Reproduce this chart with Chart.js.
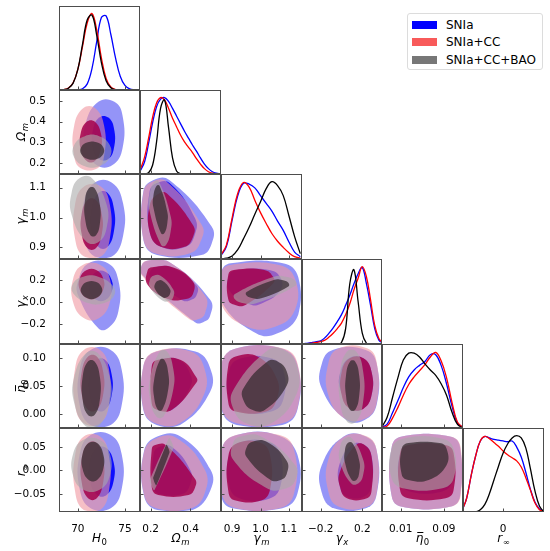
<!DOCTYPE html>
<html>
<head>
<meta charset="utf-8">
<script src="https://cdn.jsdelivr.net/npm/chart.js@4.4.1/dist/chart.umd.min.js"></script>
<style>
  html, body { margin: 0; padding: 0; background: #fff; }
  #wrap { position: relative; width: 550px; height: 551px; overflow: hidden; }
  #wrap canvas { position: absolute; }
  #legend { position: absolute; left: 407px; top: 13px; width: 134px; height: 55px;
            border: 1px solid #dcdcdc; border-radius: 3px; font: 12px "DejaVu Sans", sans-serif; color: #000; }
  #legend .row { position: absolute; left: 0; height: 14px; line-height: 14px; width: 100%; }
  #legend .patch { position: absolute; left: 4px; top: 3px; width: 25px; height: 8px; }
  #legend .txt { position: absolute; left: 38px; white-space: nowrap; }
</style>
</head>
<body>
<div id="wrap"><div id="legend"></div></div>
<script>
// chains
const runs = ['SNIa', 'SNIa+CC', 'SNIa+CC+BAO'];
const lineColors = ['#0000ff', '#ff0000', '#000000'];
const legendColors = ['#0000ff', '#f85a5a', '#777777'];
// 2sigma / 1sigma fills, in drawing order
const fillColors = ['rgba(60,60,240,0.55)', 'rgba(0,0,255,0.9)',
                    'rgba(240,150,160,0.6)', 'rgba(165,0,75,0.85)',
                    'rgba(170,170,170,0.6)', 'rgba(50,40,45,0.72)'];

// parameters
const paramSymbols = [['H', '0'], ['Ω', 'm'], ['γ', 'm'], ['γ', 'x'], ['η̄', '0'], ['r', '∞']];
const paramMin = [68, 0.147, 0.861, -0.38, -0.0245, -0.088];
const paramMax = [76.6, 0.553, 1.146, 0.39, 0.1255, 0.09];
const xTickValues = [[70, 75], [0.2, 0.4], [0.9, 1.0, 1.1], [-0.2, 0.2], [0.01, 0.09], [0]];
const xTickLabels = [['70', '75'], ['0.2', '0.4'], ['0.9', '1.0', '1.1'], ['−0.2', '0.2'], ['0.01', '0.09'], ['0']];
const yTickValues = [[], [0.2, 0.3, 0.4, 0.5], [0.9, 1.0, 1.1], [-0.2, 0, 0.2], [0, 0.05, 0.1], [-0.05, 0, 0.05]];
const yTickLabels = [[], ['0.2', '0.3', '0.4', '0.5'], ['0.9', '1.0', '1.1'], ['−0.2', '0.0', '0.2'],
                     ['0.00', '0.05', '0.10'], ['−0.05', '0.00', '0.05']];

// 1D marginals (normalised to peak 1)
const h0Grid = [68, 68.5, 69, 69.5, 70, 70.5, 71, 71.5, 72, 72.5, 73, 73.5, 74, 74.5, 75, 75.5, 76, 76.5];
const h0SNIa = [0, 0, 0, 0, 0.002, 0.016, 0.08, 0.28, 0.63, 0.95, 0.97, 0.73, 0.42, 0.18, 0.06, 0.015, 0.003, 0];
const h0CC   = [0, 0.005, 0.025, 0.095, 0.27, 0.57, 0.88, 1.0, 0.79, 0.42, 0.15, 0.04, 0.006, 0, 0, 0, 0, 0];
const h0BAO  = [0, 0.004, 0.022, 0.09, 0.27, 0.6, 0.92, 0.98, 0.72, 0.36, 0.12, 0.03, 0.004, 0, 0, 0, 0, 0];

const omGrid = [0.15, 0.17, 0.19, 0.21, 0.23, 0.25, 0.27, 0.29, 0.31, 0.33, 0.35, 0.37, 0.39, 0.41, 0.43, 0.45, 0.47, 0.49, 0.51, 0.53, 0.55];
const omSNIa = [0.05, 0.16, 0.40, 0.67, 0.88, 0.98, 1.0, 0.95, 0.86, 0.76, 0.66, 0.56, 0.47, 0.38, 0.30, 0.21, 0.13, 0.07, 0.03, 0.01, 0];
const omCC   = [0.07, 0.22, 0.47, 0.74, 0.93, 1.0, 0.97, 0.86, 0.73, 0.62, 0.51, 0.42, 0.35, 0.28, 0.20, 0.13, 0.07, 0.03, 0.01, 0, 0];
const omBAO  = [0, 0, 0.017, 0.115, 0.42, 0.86, 0.97, 0.61, 0.21, 0.04, 0.004, 0, 0, 0, 0, 0, 0, 0, 0, 0, 0];

const gmGrid = [0.86, 0.88, 0.90, 0.92, 0.94, 0.96, 0.98, 1.00, 1.02, 1.04, 1.06, 1.08, 1.10, 1.12, 1.14];
const gmSNIa = [0.04, 0.16, 0.50, 0.82, 0.98, 0.97, 0.92, 0.82, 0.72, 0.62, 0.49, 0.37, 0.22, 0.09, 0.03];
const gmCC   = [0.05, 0.18, 0.53, 0.85, 0.99, 0.93, 0.76, 0.60, 0.46, 0.33, 0.23, 0.15, 0.08, 0.03, 0.01];
const gmBAO  = [0, 0.01, 0.04, 0.12, 0.26, 0.41, 0.58, 0.74, 0.91, 1.0, 0.95, 0.82, 0.56, 0.29, 0.07];

const gxGrid = [-0.40, -0.36, -0.32, -0.28, -0.24, -0.20, -0.16, -0.12, -0.08, -0.04, 0.00, 0.04, 0.08, 0.12, 0.16, 0.20, 0.24, 0.28, 0.32, 0.36, 0.40];
const gxSNIa = [0, 0.005, 0.01, 0.02, 0.03, 0.04, 0.08, 0.14, 0.21, 0.29, 0.38, 0.50, 0.63, 0.78, 0.91, 0.99, 0.78, 0.50, 0.20, 0.05, 0.01];
const gxCC   = [0, 0.003, 0.006, 0.01, 0.02, 0.03, 0.05, 0.09, 0.14, 0.20, 0.27, 0.38, 0.52, 0.70, 0.85, 1.0, 0.87, 0.57, 0.24, 0.07, 0.01];
const gxBAO  = [0, 0, 0, 0, 0, 0, 0, 0, 0, 0, 0.02, 0.2, 0.78, 0.96, 0.55, 0.14, 0.01, 0, 0, 0, 0];

const etaGrid = [-0.025, -0.015, -0.005, 0.005, 0.015, 0.025, 0.035, 0.045, 0.055, 0.065, 0.075, 0.085, 0.095, 0.105, 0.115, 0.125];
const etaSNIa = [0.01, 0.05, 0.20, 0.36, 0.53, 0.67, 0.76, 0.82, 0.87, 0.96, 0.96, 0.82, 0.58, 0.29, 0.07, 0.01];
const etaCC   = [0.005, 0.025, 0.13, 0.27, 0.43, 0.57, 0.67, 0.75, 0.83, 0.93, 0.99, 0.88, 0.66, 0.34, 0.08, 0.01];
const etaBAO  = [0.01, 0.14, 0.40, 0.66, 0.89, 0.98, 0.98, 0.93, 0.84, 0.76, 0.69, 0.58, 0.43, 0.21, 0.05, 0];

const rGrid = [-0.09, -0.08, -0.07, -0.06, -0.05, -0.04, -0.03, -0.02, -0.01, 0.00, 0.01, 0.02, 0.03, 0.04, 0.05, 0.06, 0.07, 0.08, 0.09];
const rSNIa = [0.02, 0.18, 0.48, 0.74, 0.93, 0.99, 0.97, 0.95, 0.94, 0.93, 0.92, 0.93, 0.85, 0.72, 0.52, 0.30, 0.13, 0.04, 0.01];
const rCC   = [0.02, 0.18, 0.48, 0.74, 0.93, 0.99, 0.96, 0.91, 0.86, 0.80, 0.75, 0.71, 0.67, 0.59, 0.45, 0.29, 0.12, 0.03, 0.01];
const rBAO  = [0, 0, 0, 0, 0.03, 0.1, 0.24, 0.42, 0.6, 0.77, 0.89, 0.97, 1.0, 0.97, 0.84, 0.57, 0.28, 0.08, 0];

// 2D contours: [xmin, xmax, ymin, ymax, cut TL, cut TR, cut BR, cut BL]
// rows: SNIa 2σ, SNIa 1σ, SNIa+CC 2σ, SNIa+CC 1σ, SNIa+CC+BAO 2σ, SNIa+CC+BAO 1σ
const omH0 = [
  [70.8, 74.75, 0.19, 0.496, 0.35, 0.22, 0.27, 0.3],
  [71.6, 73.84, 0.22, 0.42, 0.3, 0.27, 0.27, 0.3],
  [69.6, 72.8, 0.175, 0.465, 0.3, 0.3, 0.22, 0.22],
  [70.3, 72.45, 0.21, 0.40, 0.3, 0.3, 0.3, 0.3],
  [69.6, 73.4, 0.185, 0.33, 0.3, 0.3, 0.3, 0.3],
  [70.35, 72.7, 0.22, 0.30, 0.3, 0.3, 0.3, 0.3]
];
const gmH0 = [
  [70.6, 74.8, 0.869, 1.117, 0.28, 0.28, 0.28, 0.28],
  [71.5, 73.84, 0.901, 1.083, 0.3, 0.3, 0.3, 0.3],
  [69.7, 73.4, 0.869, 1.104, 0.26, 0.26, 0.26, 0.26],
  [70.4, 72.55, 0.897, 1.059, 0.3, 0.3, 0.3, 0.3],
  [69.35, 73.06, 0.919, 1.132, 0.22, 0.42, 0.22, 0.42],
  [70.76, 72.35, 0.941, 1.098, 0.26, 0.36, 0.26, 0.36]
];
const gxH0 = [
  [70.05, 74.3, -0.238, 0.351, 0.26, 0.26, 0.26, 0.5],
  [71.3, 73.6, 0.018, 0.275, 0.3, 0.3, 0.3, 0.3],
  [69.5, 73.4, -0.147, 0.336, 0.26, 0.26, 0.3, 0.3],
  [70.2, 72.7, 0.034, 0.29, 0.3, 0.3, 0.3, 0.3],
  [69.5, 73.8, -0.011, 0.23, 0.25, 0.38, 0.25, 0.38],
  [70.4, 72.5, 0.034, 0.184, 0.3, 0.3, 0.3, 0.3]
];
const etaH0 = [
  [70.2, 74.65, -0.019, 0.115, 0.26, 0.26, 0.26, 0.26],
  [71.3, 73.6, 0.008, 0.097, 0.3, 0.3, 0.3, 0.3],
  [69.7, 73.3, -0.016, 0.115, 0.26, 0.26, 0.26, 0.26],
  [70.4, 72.7, 0.008, 0.103, 0.3, 0.3, 0.3, 0.3],
  [69.6, 73.4, -0.022, 0.109, 0.33, 0.33, 0.33, 0.33],
  [70.5, 72.35, -0.001, 0.094, 0.3, 0.3, 0.3, 0.3]
];
const rH0 = [
  [70.2, 74.65, -0.08, 0.075, 0.26, 0.26, 0.26, 0.26],
  [71.3, 73.8, -0.052, 0.047, 0.3, 0.3, 0.3, 0.3],
  [69.7, 73.3, -0.084, 0.072, 0.26, 0.26, 0.26, 0.26],
  [70.4, 72.7, -0.059, 0.058, 0.3, 0.3, 0.3, 0.3],
  [69.5, 73.4, -0.041, 0.065, 0.28, 0.28, 0.28, 0.28],
  [70.5, 72.7, -0.02, 0.058, 0.3, 0.3, 0.3, 0.3]
];
const gmOm = [
  [0.164, 0.506, 0.874, 1.126, 0.15, 0.62, 0.15, 0.2],
  [0.194, 0.423, 0.902, 1.115, 0.15, 0.55, 0.2, 0.25],
  [0.164, 0.456, 0.88, 1.12, 0.15, 0.6, 0.2, 0.2],
  [0.197, 0.414, 0.902, 1.08, 0.2, 0.6, 0.2, 0.25],
  [0.194, 0.301, 0.908, 1.12, 0.22, 0.55, 0.22, 0.55],
  [0.214, 0.284, 0.947, 1.106, 0.22, 0.55, 0.22, 0.55]
];
const gxOm = [
  [0.155, 0.498, -0.183, 0.374, 0.08, 0.63, 0.1, 0.78],
  [0.2, 0.43, 0.015, 0.315, 0.1, 0.55, 0.15, 0.7],
  [0.155, 0.473, -0.154, 0.374, 0.08, 0.6, 0.1, 0.75],
  [0.185, 0.412, 0.028, 0.315, 0.1, 0.45, 0.15, 0.45],
  [0.197, 0.314, 0.012, 0.239, 0.15, 0.55, 0.15, 0.55],
  [0.222, 0.297, 0.043, 0.193, 0.2, 0.5, 0.2, 0.5]
];
const etaOm = [
  [0.164, 0.498, -0.019, 0.112, 0.2, 0.22, 0.45, 0.2],
  [0.215, 0.40, 0.01, 0.097, 0.2, 0.3, 0.45, 0.22],
  [0.164, 0.468, -0.016, 0.112, 0.2, 0.22, 0.4, 0.2],
  [0.206, 0.43, 0.008, 0.097, 0.12, 0.35, 0.55, 0.12],
  [0.197, 0.314, -0.004, 0.112, 0.42, 0.27, 0.42, 0.27],
  [0.217, 0.289, 0.008, 0.097, 0.42, 0.27, 0.42, 0.27]
];
const rOm = [
  [0.167, 0.50, -0.084, 0.072, 0.2, 0.45, 0.27, 0.2],
  [0.215, 0.40, -0.05, 0.05, 0.15, 0.5, 0.22, 0.15],
  [0.167, 0.472, -0.08, 0.068, 0.2, 0.45, 0.22, 0.2],
  [0.206, 0.423, -0.052, 0.054, 0.08, 0.68, 0.15, 0.15],
  [0.197, 0.314, -0.041, 0.068, 0.8, 0.15, 0.8, 0.15],
  [0.214, 0.294, -0.031, 0.054, 0.8, 0.15, 0.8, 0.15]
];
const gxGm = [
  [0.863, 1.133, -0.283, 0.351, 0.12, 0.2, 0.27, 0.45],
  [0.89, 1.07, -0.02, 0.29, 0.15, 0.22, 0.4, 0.4],
  [0.863, 1.121, -0.223, 0.336, 0.12, 0.22, 0.27, 0.35],
  [0.887, 1.045, -0.027, 0.29, 0.12, 0.2, 0.62, 0.15],
  [0.91, 1.122, -0.011, 0.23, 0.65, 0.15, 0.65, 0.15],
  [0.951, 1.098, 0.034, 0.2, 0.65, 0.15, 0.65, 0.15]
];
const etaGm = [
  [0.863, 1.13, -0.019, 0.118, 0.2, 0.22, 0.2, 0.2],
  [0.89, 1.08, 0.005, 0.10, 0.22, 0.22, 0.22, 0.22],
  [0.863, 1.13, -0.016, 0.118, 0.2, 0.2, 0.2, 0.2],
  [0.887, 1.057, 0.005, 0.103, 0.15, 0.4, 0.22, 0.15],
  [0.904, 1.127, -0.016, 0.115, 0.55, 0.2, 0.4, 0.2],
  [0.94, 1.092, 0.008, 0.094, 0.55, 0.2, 0.5, 0.2]
];
const rGm = [
  [0.863, 1.13, -0.08, 0.075, 0.2, 0.27, 0.2, 0.15],
  [0.89, 1.07, -0.06, 0.06, 0.22, 0.22, 0.22, 0.22],
  [0.863, 1.118, -0.08, 0.075, 0.2, 0.2, 0.2, 0.2],
  [0.887, 1.034, -0.063, 0.058, 0.22, 0.22, 0.2, 0.15],
  [0.904, 1.122, -0.038, 0.072, 0.12, 0.55, 0.15, 0.55],
  [0.951, 1.092, -0.02, 0.061, 0.15, 0.5, 0.15, 0.6]
];
const etaGx = [
  [-0.19, 0.339, -0.01, 0.115, 0.2, 0.2, 0.22, 0.45],
  [-0.01, 0.29, 0.01, 0.10, 0.27, 0.27, 0.27, 0.38],
  [-0.127, 0.339, -0.007, 0.118, 0.22, 0.2, 0.22, 0.33],
  [0.002, 0.29, 0.01, 0.10, 0.27, 0.27, 0.27, 0.27],
  [-0.015, 0.21, -0.013, 0.112, 0.3, 0.3, 0.3, 0.3],
  [0.043, 0.171, 0.008, 0.094, 0.3, 0.3, 0.3, 0.3]
];
const rGx = [
  [-0.19, 0.339, -0.08, 0.072, 0.4, 0.2, 0.2, 0.22],
  [-0.02, 0.29, -0.055, 0.054, 0.38, 0.22, 0.22, 0.22],
  [-0.127, 0.339, -0.077, 0.072, 0.33, 0.2, 0.2, 0.22],
  [-0.015, 0.29, -0.059, 0.054, 0.5, 0.22, 0.15, 0.22],
  [-0.015, 0.21, -0.027, 0.068, 0.2, 0.48, 0.2, 0.48],
  [0.033, 0.171, -0.02, 0.058, 0.2, 0.48, 0.2, 0.48]
];
const rEta = [
  [-0.0065, 0.12, -0.077, 0.072, 0.15, 0.15, 0.15, 0.15],
  [0.009, 0.105, -0.045, 0.054, 0.2, 0.2, 0.2, 0.2],
  [-0.0065, 0.121, -0.077, 0.072, 0.15, 0.15, 0.15, 0.15],
  [0.009, 0.108, -0.059, 0.054, 0.15, 0.15, 0.15, 0.15],
  [-0.0065, 0.108, -0.038, 0.068, 0.2, 0.2, 0.2, 0.2],
  [0.012, 0.095, -0.02, 0.058, 0.15, 0.15, 0.4, 0.15]
];

const grids = [h0Grid, omGrid, gmGrid, gxGrid, etaGrid, rGrid];
const marginals = [[h0SNIa, h0CC, h0BAO], [omSNIa, omCC, omBAO], [gmSNIa, gmCC, gmBAO],
                   [gxSNIa, gxCC, gxBAO], [etaSNIa, etaCC, etaBAO], [rSNIa, rCC, rBAO]];
const contourTable = {
  '1,0': omH0, '2,0': gmH0, '3,0': gxH0, '4,0': etaH0, '5,0': rH0,
  '2,1': gmOm, '3,1': gxOm, '4,1': etaOm, '5,1': rOm,
  '3,2': gxGm, '4,2': etaGm, '5,2': rGm,
  '4,3': etaGx, '5,3': rGx,
  '5,4': rEta
};

// layout of the triangle
const colEdges = [59, 140, 221, 302, 382, 463, 544];
const rowEdges = [6, 90, 174, 259, 344, 428, 512];
const LEFT = 59, BOTTOM = 39;

Chart.defaults.font.family = '"DejaVu Sans", sans-serif';

// octagon outline of a contour region, smoothed by the line tension
function outline(c) {
  const [x0, x1, y0, y1, tl, tr, br, bl] = c;
  const uv = [[bl, 0], [1 - br, 0], [1, br], [1, 1 - tr], [1 - tr, 1], [tl, 1], [0, 1 - tl], [0, bl]];
  return uv.map(([u, v]) => ({ x: x0 + u * (x1 - x0), y: y0 + v * (y1 - y0) }));
}

// make filled line datasets close on themselves like a radar line
const closeLoops = {
  id: 'closeLoops',
  afterDatasetsUpdate(chart) {
    chart.data.datasets.forEach((ds, k) => {
      if (!ds.closedShape) return;
      const line = chart.getDatasetMeta(k).dataset;
      line._loop = true;
      line._fullLoop = true;
      line._segments = undefined;
      line._pointsUpdated = false;
      line._path = undefined;
    });
  }
};

// math-style symbol: italic main letter with a subscript (bar drawn for η̄)
function drawSymbol(ctx, sym, cx, by) {
  const main = sym[0].replace('\u0304', ''), sub = sym[1];
  const bar = sym[0] !== main;
  const mf = 'italic 12px "DejaVu Sans"';
  const sf = (/[a-z]/.test(sub) ? 'italic ' : '') + '8.5px "DejaVu Sans"';
  ctx.font = mf; const mw = ctx.measureText(main).width;
  ctx.font = sf; const sw = ctx.measureText(sub).width;
  const x0 = cx - (mw + sw + 0.5) / 2;
  ctx.textAlign = 'left';
  ctx.textBaseline = 'alphabetic';
  ctx.font = mf; ctx.fillText(main, x0, by);
  if (bar) ctx.fillRect(x0 + 1.5, by - 10, mw - 1.5, 1);
  ctx.font = sf; ctx.fillText(sub, x0 + mw + 0.5, by + 2.5);
}

// frame, inward ticks and axis titles
const frame = {
  id: 'frame',
  afterDraw(chart, args, o) {
    const { ctx, chartArea: a } = chart;
    const sx = chart.scales.x, sy = chart.scales.y;
    ctx.save();
    ctx.strokeStyle = '#4d4d4d';
    ctx.lineWidth = 1;
    ctx.strokeRect(a.left + 0.5, a.top + 0.5, a.right - a.left - 1, a.bottom - a.top - 1);
    ctx.beginPath();
    xTickValues[o.xParam].forEach(v => {
      const px = Math.round(sx.getPixelForValue(v)) + 0.5;
      ctx.moveTo(px, a.bottom); ctx.lineTo(px, a.bottom - 3.5);
    });
    if (o.yParam !== null) {
      yTickValues[o.yParam].forEach(v => {
        const py = Math.round(sy.getPixelForValue(v)) + 0.5;
        ctx.moveTo(a.left, py); ctx.lineTo(a.left + 3.5, py);
      });
    }
    ctx.stroke();
    ctx.fillStyle = '#000';
    if (o.showX) drawSymbol(ctx, paramSymbols[o.xParam], (a.left + a.right) / 2, a.bottom + 30);
    if (o.showY) {
      ctx.translate(a.left - 34, (a.top + a.bottom) / 2);
      ctx.rotate(-Math.PI / 2);
      drawSymbol(ctx, paramSymbols[o.yParam], 0, 0);
    }
    ctx.restore();
  }
};

function axis(p, dir, show, vals, labels) {
  return {
    type: 'linear', min: paramMin[p], max: paramMax[p], display: show,
    grid: { display: false }, border: { display: false },
    afterBuildTicks: s => { s.ticks = vals.map(v => ({ value: v })); },
    ticks: {
      autoSkip: false, maxRotation: 0, minRotation: 0, padding: dir === 'x' ? 3 : 5, color: '#000',
      font: { size: 10.5 }, callback: (v, k) => labels[k]
    },
    afterFit: s => {
      if (!show) return;
      if (dir === 'x') s.height = BOTTOM; else s.width = LEFT;
      s.paddingLeft = s.paddingRight = s.paddingTop = s.paddingBottom = 0;
    }
  };
}

function curveSets(p) {
  return marginals[p].map((vals, k) => ({
    data: grids[p].map((x, n) => ({ x, y: vals[n] })),
    borderColor: lineColors[k], borderWidth: 1.3, pointRadius: 0,
    tension: 0.4, fill: false, order: 3 - k
  }));
}

function contourSets(i, j) {
  return contourTable[i + ',' + j].map((c, k) => ({
    data: outline(c), closedShape: true,
    fill: 'shape', backgroundColor: fillColors[k], borderWidth: 0,
    pointRadius: 0, tension: 0.45, order: 6 - k
  }));
}

const wrap = document.getElementById('wrap');

function makePanel(i, j) {
  const showY = j === 0 && i > 0, showX = i === 5, diag = i === j;
  const w = colEdges[j + 1] - colEdges[j] + (showY ? LEFT : 0);
  const h = rowEdges[i + 1] - rowEdges[i] + (showX ? BOTTOM : 0);
  const cv = document.createElement('canvas');
  cv.width = w; cv.height = h;
  cv.style.width = w + 'px'; cv.style.height = h + 'px';
  cv.style.left = (colEdges[j] - (showY ? LEFT : 0)) + 'px';
  cv.style.top = rowEdges[i] + 'px';
  wrap.appendChild(cv);
  new Chart(cv, {
    type: 'line',
    data: { datasets: diag ? curveSets(j) : contourSets(i, j) },
    options: {
      responsive: false, animation: false, events: [],
      layout: { padding: 0 },
      plugins: {
        legend: { display: false }, tooltip: { enabled: false },
        frame: { xParam: j, yParam: diag ? null : i, showX, showY }
      },
      scales: {
        x: axis(j, 'x', showX, xTickValues[j], xTickLabels[j]),
        y: diag ? { type: 'linear', min: 0, max: 1.1, display: false }
                : axis(i, 'y', showY, yTickValues[i], yTickLabels[i])
      }
    },
    plugins: [closeLoops, frame]
  });
}

for (let i = 0; i < 6; i++) {
  for (let j = 0; j <= i; j++) makePanel(i, j);
}

// legend
const legend = document.getElementById('legend');
runs.forEach((name, k) => {
  const row = document.createElement('div');
  row.className = 'row';
  row.style.top = (3.5 + k * 17.5) + 'px';
  const patch = document.createElement('div');
  patch.className = 'patch';
  patch.style.background = legendColors[k];
  const txt = document.createElement('span');
  txt.className = 'txt';
  txt.textContent = name;
  row.appendChild(patch); row.appendChild(txt);
  legend.appendChild(row);
});
</script>
</body>
</html>
